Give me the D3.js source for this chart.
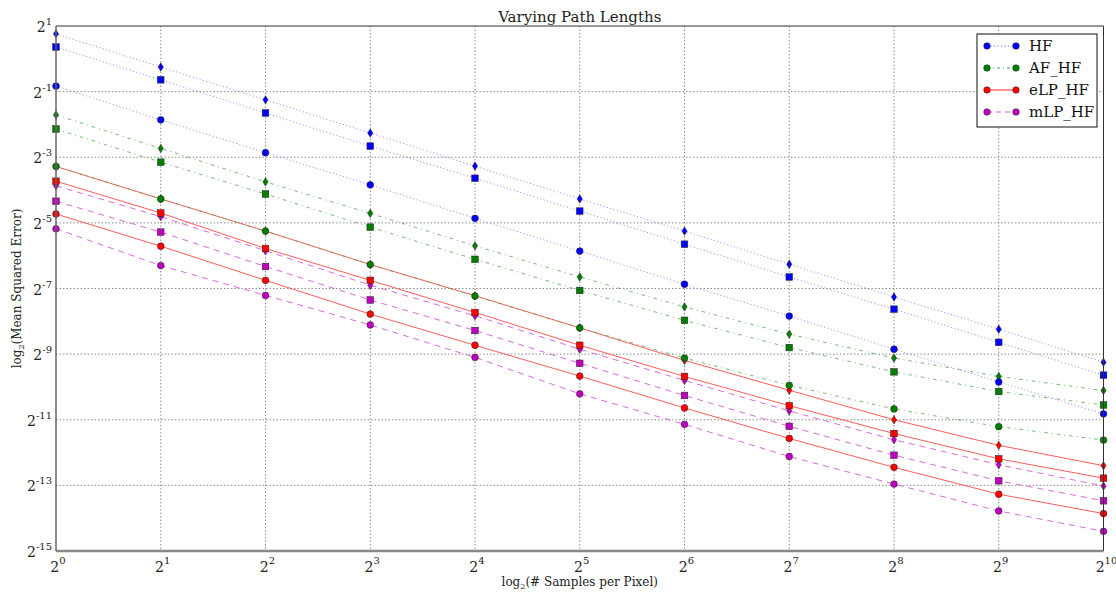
<!DOCTYPE html>
<html>
<head>
<meta charset="utf-8">
<script src="https://cdn.jsdelivr.net/npm/d3@7"></script>
<style>
  body { margin: 0; background: #fff; }
  svg { font-family: "DejaVu Serif", serif; }
</style>
</head>
<body>
<div id="graph"></div>
<script>
const width = 1116, height = 592;
const margin = {top: 26, right: 12, bottom: 41, left: 56};

// x: log2(# samples per pixel)
const xExps = [0, 1, 2, 3, 4, 5, 6, 7, 8, 9, 10];
const yTickExps = [1, -1, -3, -5, -7, -9, -11, -13, -15];

// log2(MSE), three path lengths per method (diamond, square, circle)
const hfDiamond  = [0.76, -0.25, -1.25, -2.26, -3.27, -4.27, -5.25, -6.26, -7.26, -8.24, -9.25];
const hfSquare   = [0.36, -0.64, -1.65, -2.66, -3.64, -4.64, -5.65, -6.65, -7.63, -8.64, -9.64];
const hfCircle   = [-0.83, -1.86, -2.86, -3.84, -4.86, -5.86, -6.87, -7.84, -8.85, -9.85, -10.82];

const afDiamond  = [-1.71, -2.73, -3.75, -4.71, -5.70, -6.65, -7.56, -8.39, -9.12, -9.68, -10.11];
const afSquare   = [-2.14, -3.15, -4.12, -5.13, -6.11, -7.06, -7.97, -8.80, -9.54, -10.14, -10.55];
const afCircle   = [-3.28, -4.27, -5.25, -6.27, -7.23, -8.20, -9.12, -9.95, -10.67, -11.21, -11.62];

const elpDiamond = [-3.28, -4.27, -5.25, -6.27, -7.22, -8.20, -9.19, -10.10, -11.00, -11.78, -12.40];
const elpSquare  = [-3.73, -4.70, -5.78, -6.75, -7.73, -8.73, -9.68, -10.57, -11.42, -12.19, -12.78];
const elpCircle  = [-4.73, -5.71, -6.75, -7.78, -8.73, -9.67, -10.64, -11.57, -12.45, -13.27, -13.86];

const mlpDiamond = [-3.87, -4.81, -5.85, -6.90, -7.83, -8.85, -9.80, -10.73, -11.61, -12.37, -13.02];
const mlpSquare  = [-4.34, -5.28, -6.33, -7.35, -8.28, -9.28, -10.26, -11.20, -12.08, -12.86, -13.47];
const mlpCircle  = [-5.18, -6.30, -7.21, -8.11, -9.10, -10.21, -11.14, -12.12, -12.96, -13.78, -14.40];

const methods = [
  {name: "HF",     color: "#0000ff", lineColor: "#6a6aff", dash: "1,2.5",       opacity: 0.8, sets: [hfDiamond, hfSquare, hfCircle]},
  {name: "AF_HF",  color: "#007f00", lineColor: "#4fa84f", dash: "3.5,4,1,4",   opacity: 0.8, sets: [afDiamond, afSquare, afCircle]},
  {name: "eLP_HF", color: "#ff0000", lineColor: "#ff4a4a", dash: null,          opacity: 0.9, sets: [elpDiamond, elpSquare, elpCircle]},
  {name: "mLP_HF", color: "#bf00bf", lineColor: "#d65ad6", dash: "6,5",         opacity: 0.9, sets: [mlpDiamond, mlpSquare, mlpCircle]}
];
const markerKinds = ["diamond", "square", "circle"];

const x = d3.scaleLog().base(2)
    .domain([Math.pow(2, 0), Math.pow(2, 10)])
    .range([margin.left, width - margin.right - 0.5]);
const y = d3.scaleLog().base(2)
    .domain([Math.pow(2, -15), Math.pow(2, 1)])
    .range([height - margin.bottom, margin.top]);

const svg = d3.select("#graph")
    .append("svg")
    .attr("width", width)
    .attr("height", height);

const x0 = x.range()[0], x1 = x.range()[1];
const y0 = y.range()[0], y1 = y.range()[1];

// grid
svg.append("g")
  .selectAll("line")
  .data(xExps.slice(1, -1))
  .join("line")
    .attr("x1", d => x(Math.pow(2, d))).attr("x2", d => x(Math.pow(2, d)))
    .attr("y1", y1).attr("y2", y0)
    .attr("stroke", "#6e6e6e").attr("stroke-width", 0.8)
    .attr("stroke-dasharray", "1.5,2");
svg.append("g")
  .selectAll("line")
  .data(yTickExps.slice(1, -1))
  .join("line")
    .attr("x1", x0).attr("x2", x1)
    .attr("y1", d => y(Math.pow(2, d))).attr("y2", d => y(Math.pow(2, d)))
    .attr("stroke", "#6e6e6e").attr("stroke-width", 0.8)
    .attr("stroke-dasharray", "1.5,2");

// lines
const line = d3.line()
    .x((d, i) => x(Math.pow(2, xExps[i])))
    .y(d => y(Math.pow(2, d)));

const plot = svg.append("g");
markerKinds.forEach((kind, k) => {
  methods.forEach(m => {
    const vals = m.sets[k];
    plot.append("path")
      .attr("d", line(vals))
      .attr("fill", "none")
      .attr("stroke", m.lineColor)
      .attr("stroke-opacity", m.opacity)
      .attr("stroke-width", 1)
      .attr("stroke-dasharray", m.dash);
    const g = plot.append("g");
    const pts = g.selectAll("g")
      .data(vals)
      .join("g")
      .attr("transform", (d, i) => `translate(${x(Math.pow(2, xExps[i]))},${y(Math.pow(2, d))})`);
    if (kind === "circle") {
      pts.append("circle").attr("r", 3.4);
    } else if (kind === "square") {
      pts.append("rect").attr("x", -3.3).attr("y", -3.3).attr("width", 6.6).attr("height", 6.6);
    } else {
      pts.append("path").attr("d", "M0,-4.2L2.6,0L0,4.2L-2.6,0Z");
    }
    pts.selectAll("*")
      .attr("fill", m.color)
      .attr("stroke", "#222")
      .attr("stroke-width", 0.5);
  });
});

// frame
svg.append("line").attr("x1", x0).attr("x2", x1).attr("y1", y1).attr("y2", y1)
  .attr("stroke", "#333").attr("stroke-width", 1);
svg.append("line").attr("x1", x1).attr("x2", x1).attr("y1", y1).attr("y2", y0)
  .attr("stroke", "#333").attr("stroke-width", 1);
svg.append("line").attr("x1", x0).attr("x2", x1).attr("y1", y0).attr("y2", y0)
  .attr("stroke", "#888").attr("stroke-width", 2.5);
svg.append("line").attr("x1", x0).attr("x2", x0).attr("y1", y1).attr("y2", y0)
  .attr("stroke", "#666").attr("stroke-width", 1.5);

// tick labels
const yt = svg.append("g").selectAll("text")
  .data(yTickExps)
  .join("text")
    .attr("x", x0 - 4)
    .attr("y", d => y(Math.pow(2, d)) + 6)
    .attr("text-anchor", "end")
    .attr("font-size", 14)
    .attr("fill", "#222");
yt.append("tspan").text("2");
yt.append("tspan").attr("dy", -7).attr("font-size", 10).text(d => d);

const xt = svg.append("g").selectAll("text")
  .data(xExps)
  .join("text")
    .attr("x", d => x(Math.pow(2, d)) + (d >= 10 ? 3 : 2))
    .attr("y", y0 + 21)
    .attr("text-anchor", "middle")
    .attr("font-size", 14)
    .attr("fill", "#222");
xt.append("tspan").text("2");
xt.append("tspan").attr("dy", -8).attr("font-size", 10).text(d => d);

// title and axis labels
svg.append("text")
  .attr("x", (x0 + x1) / 2).attr("y", 22)
  .attr("text-anchor", "middle").attr("font-size", 15).attr("fill", "#222")
  .text("Varying Path Lengths");

const xl = svg.append("text")
  .attr("x", (x0 + x1) / 2).attr("y", 586)
  .attr("text-anchor", "middle").attr("font-size", 12).attr("fill", "#222");
xl.append("tspan").text("log");
xl.append("tspan").attr("font-size", 8).attr("dy", 3).text("2");
xl.append("tspan").attr("dy", -3).text("(# Samples per Pixel)");

const yl = svg.append("text")
  .attr("transform", `translate(21,${(y0 + y1) / 2}) rotate(-90)`)
  .attr("text-anchor", "middle").attr("font-size", 12).attr("fill", "#222");
yl.append("tspan").text("log");
yl.append("tspan").attr("font-size", 8).attr("dy", 3).text("2");
yl.append("tspan").attr("dy", -3).text("(Mean Squared Error)");

// legend
const legend = svg.append("g").attr("transform", "translate(977,34)");
legend.append("rect")
  .attr("width", 120).attr("height", 93)
  .attr("fill", "#fff").attr("stroke", "#111").attr("stroke-width", 1);
const item = legend.selectAll("g.item")
  .data(methods)
  .join("g")
    .attr("class", "item")
    .attr("transform", (d, i) => `translate(0,${12 + i * 22})`);
item.append("line")
  .attr("x1", 10).attr("x2", 39).attr("y1", 0).attr("y2", 0)
  .attr("stroke", d => d.lineColor)
  .attr("stroke-dasharray", d => d.name === "AF_HF" ? "3,3,1,3" : d.name === "mLP_HF" ? "5,4" : d.dash)
  .attr("stroke-width", 1.2);
[10, 39].forEach(cx => {
  item.append("circle")
    .attr("cx", cx).attr("cy", 0).attr("r", 3.3)
    .attr("fill", d => d.color).attr("stroke", "#222").attr("stroke-width", 0.5);
});
item.append("text")
  .attr("x", 52).attr("y", 5)
  .attr("font-size", 15).attr("fill", "#111")
  .text(d => d.name);
</script>
</body>
</html>
